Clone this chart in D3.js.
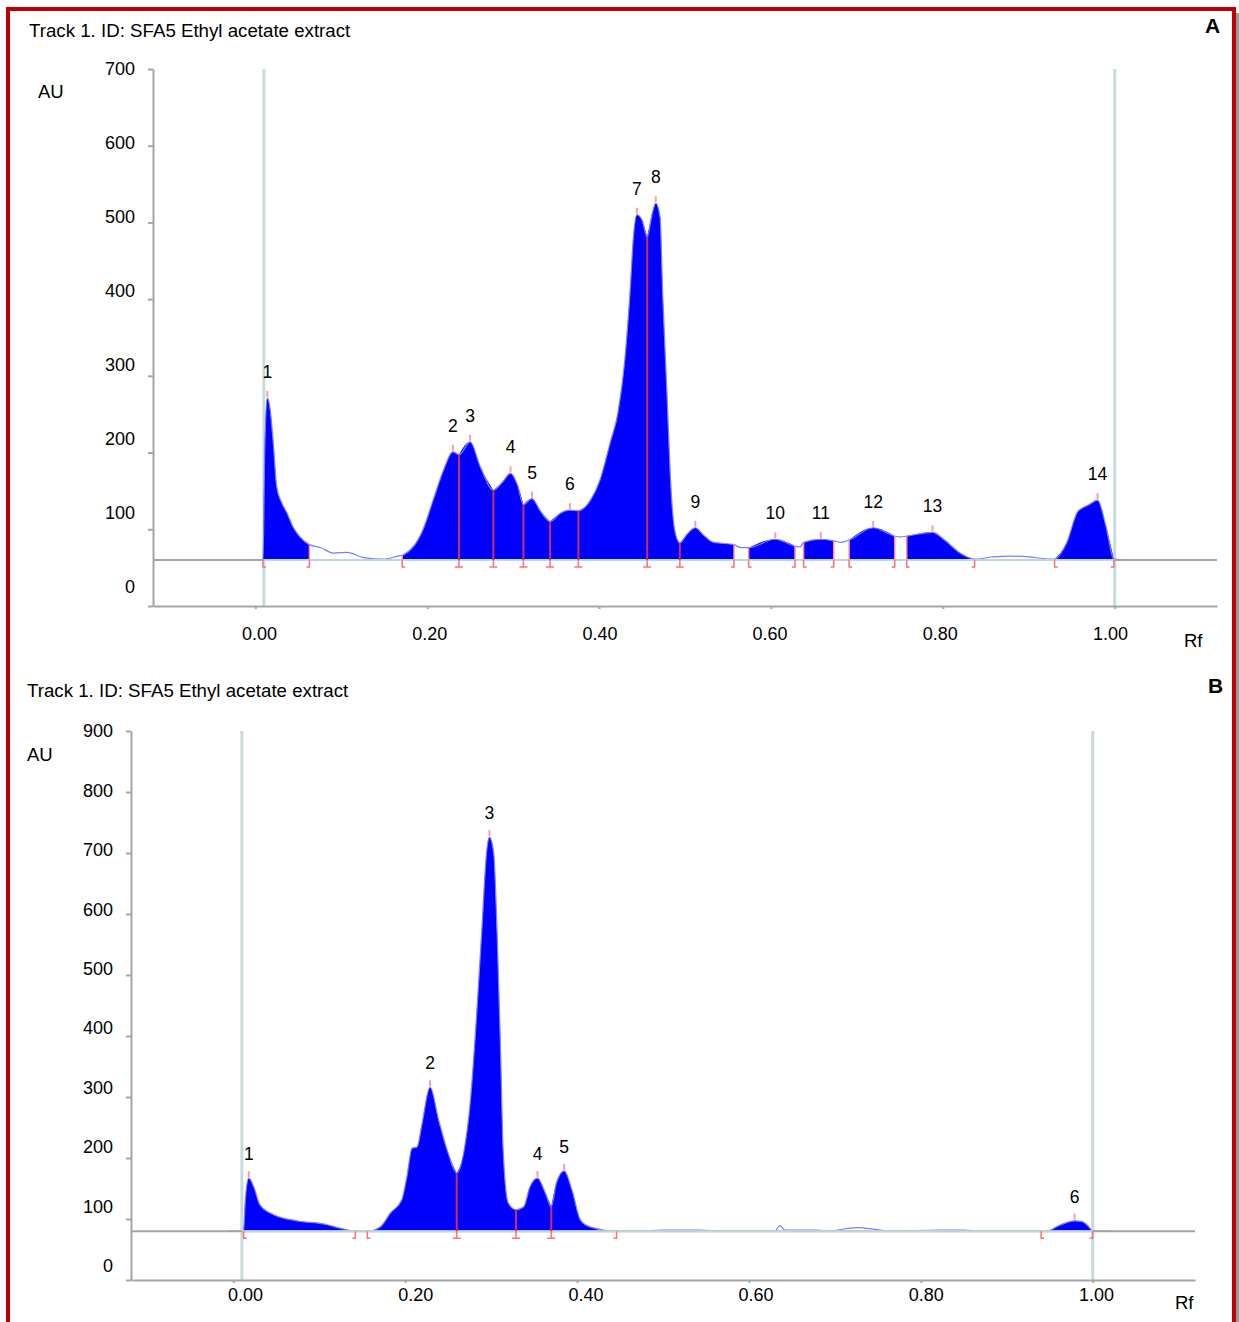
<!DOCTYPE html>
<html lang="en">
<head>
<meta charset="UTF-8" />
<title>Track 1. ID: SFA5 Ethyl acetate extract</title>
<script src="https://d3js.org/d3.v7.min.js"></script>
<style>
  body { margin: 0; background: #fff; }
  svg { display: block; font-family: "Liberation Sans", Arial, sans-serif; }
</style>
</head>
<body>
<svg id="chart" width="1239" height="1322"></svg>
<script>
// ---- shared ----
const rfTicks = [0, 0.2, 0.4, 0.6, 0.8, 1.0];
const rfExtent = [-0.119, 1.119];
const trackLimits = [0.01, 1.0];
const titleText = "Track 1. ID: SFA5 Ethyl acetate extract";

// ---- panel A ----
const auTicksA = [0, 100, 200, 300, 400, 500, 600, 700];
const baselineA = 60;
const rfA = [-0.008, 0.009, 0.011, 0.014, 0.017, 0.021, 0.025, 0.031, 0.037, 0.044, 0.052, 0.063,
  0.076, 0.091, 0.107, 0.126, 0.149, 0.166, 0.171, 0.195, 0.207, 0.219, 0.230, 0.237, 0.250, 0.262,
  0.277, 0.288, 0.297, 0.305, 0.312, 0.322, 0.331, 0.343, 0.355, 0.366, 0.376, 0.390, 0.401, 0.413,
  0.422, 0.430, 0.436, 0.440, 0.444, 0.450, 0.456, 0.462, 0.466, 0.471, 0.474, 0.479, 0.483, 0.488,
  0.494, 0.502, 0.512, 0.521, 0.533, 0.541, 0.557, 0.565, 0.574, 0.605, 0.628, 0.634, 0.638, 0.658,
  0.673, 0.682, 0.691, 0.719, 0.744, 0.751, 0.758, 0.788, 0.802, 0.820, 0.837, 0.858, 0.879, 0.901,
  0.927, 0.930, 0.944, 0.957, 0.970, 0.980, 0.990, 0.999, 1.021];
const auA = [60, 60, 203, 271, 259, 212, 155, 134, 121, 103, 90, 80,
  76, 69, 70, 63, 61, 65, 66, 99, 138, 177, 201, 197, 214, 181,
  151, 162, 173, 158, 132, 140, 125, 110, 121, 125, 124, 138, 164, 213,
  252, 321, 408, 481, 510, 503, 481, 512, 525, 507, 408, 278, 168, 99,
  82, 93, 102, 93, 83, 82, 80, 76, 76, 87, 78, 77, 83, 87,
  85, 83, 86, 102, 91, 90, 91, 96, 86, 69, 61, 64, 65, 64,
  61, 61, 82, 123, 132, 138, 103, 61, 60];
const peakStartA = [0.009, 0.171, 0.237, 0.277, 0.312, 0.343, 0.376, 0.456, 0.494, 0.574, 0.638, 0.691, 0.758, 0.930];
const peakTopA   = [0.014, 0.230, 0.250, 0.297, 0.322, 0.366, 0.444, 0.466, 0.512, 0.605, 0.658, 0.719, 0.788, 0.980];
const peakEndA   = [0.063, 0.237, 0.277, 0.312, 0.343, 0.376, 0.456, 0.494, 0.557, 0.628, 0.673, 0.744, 0.837, 0.999];

// ---- panel B ----
const auTicksB = [0, 100, 200, 300, 400, 500, 600, 700, 800, 900];
const baselineB = 80;
const rfB = [-0.006, 0.012, 0.014, 0.018, 0.024, 0.031, 0.047, 0.074, 0.105, 0.124, 0.142, 0.156,
  0.171, 0.183, 0.196, 0.202, 0.208, 0.214, 0.219, 0.229, 0.239, 0.250, 0.260, 0.268, 0.276, 0.283,
  0.289, 0.295, 0.298, 0.303, 0.307, 0.311, 0.314, 0.320, 0.329, 0.338, 0.345, 0.354, 0.363, 0.370,
  0.376, 0.385, 0.394, 0.404, 0.415, 0.446, 0.477, 0.497, 0.543, 0.574, 0.630, 0.636, 0.642, 0.679,
  0.694, 0.712, 0.727, 0.747, 0.764, 0.822, 0.851, 0.869, 0.940, 0.946, 0.962, 0.979, 0.987, 0.995,
  1.000, 1.022];
const auB = [80, 80, 131, 167, 152, 123, 107, 97, 92, 85, 80, 80,
  87, 110, 131, 169, 216, 218, 251, 316, 262, 208, 175, 208, 295, 431,
  569, 705, 726, 700, 569, 377, 213, 126, 115, 120, 152, 167, 143, 120,
  159, 179, 148, 98, 87, 80, 80, 82, 82, 80, 80, 89, 82, 82,
  80, 84, 86, 83, 80, 82, 82, 80, 80, 80, 90, 97, 96, 88,
  80, 80];
const peakStartB = [0.012, 0.156, 0.260, 0.329, 0.370, 0.940];
const peakTopB   = [0.018, 0.229, 0.298, 0.354, 0.385, 0.979];
const peakEndB   = [0.142, 0.260, 0.329, 0.370, 0.446, 1.000];

const svg = d3.select("#chart");

// frame
svg.append("rect").attr("x", 1236).attr("y", 13).attr("width", 3).attr("height", 1320).attr("fill", "#9a9a9a");
svg.append("rect").attr("x", 8).attr("y", 9).attr("width", 1226).attr("height", 1400)
  .attr("fill", "none").attr("stroke", "#c00000").attr("stroke-width", 4);

function drawPanel(p) {
  const g = svg.append("g");
  const x = d3.scaleLinear().domain(rfExtent).range([p.left, p.right]);
  const y = d3.scaleLinear().domain([0, d3.max(p.ticks)]).range([p.zeroY, p.topY]);
  const xLab = d3.scaleLinear().domain([0, 1]).range(p.xLabRange);
  const yLab = d3.scaleLinear().domain([0, d3.max(p.ticks)]).range(p.yLabRange);
  const trace = d3.scaleLinear().domain(p.rf).range(p.au).clamp(true);
  const yb = y(p.baseline);

  // start / front lines of the track
  g.selectAll(".track").data(trackLimits).join("line")
    .attr("x1", d => x(d)).attr("x2", d => x(d))
    .attr("y1", y(0)).attr("y2", p.topY)
    .attr("stroke", "#c6dcdc").attr("stroke-width", 3);

  // integrated peak areas
  const area = d3.area().x(d => x(d[0])).y0(yb).y1(d => y(d[1])).curve(d3.curveMonotoneX);
  p.start.forEach((s, i) => {
    const e = p.end[i];
    const pts = [[s, trace(s)]];
    p.rf.forEach((r, k) => { if (r > s && r < e) pts.push([r, p.au[k]]); });
    pts.push([e, trace(e)]);
    g.append("path").attr("d", area(pts)).attr("fill", "#0000ff");
  });

  // raw trace
  const line = d3.line().x((d, k) => x(p.rf[k])).y(d => y(d)).curve(d3.curveMonotoneX);
  g.append("path").attr("d", line(p.au)).attr("fill", "none")
    .attr("stroke", "#7c7cff").attr("stroke-width", 1.2);

  // baseline
  g.append("line").attr("x1", p.left).attr("x2", p.right).attr("y1", yb).attr("y2", yb)
    .attr("stroke", "#a4a4a4").attr("stroke-width", 2);
  g.append("line").attr("x1", x(trackLimits[0])).attr("x2", x(trackLimits[1]))
    .attr("y1", yb).attr("y2", yb).attr("stroke", "#bfd8d8").attr("stroke-width", 2);

  // peak boundaries
  const bounds = [];
  p.start.forEach((s, i) => {
    const adj = i > 0 && p.end[i - 1] === s;
    bounds.push({ rf: s, type: adj ? "valley" : "start" });
    const next = i < p.start.length - 1 && p.start[i + 1] === p.end[i];
    if (!next) bounds.push({ rf: p.end[i], type: "end" });
  });
  g.selectAll(".bound").data(bounds).join("line")
    .attr("x1", d => x(d.rf)).attr("x2", d => x(d.rf))
    .attr("y1", yb).attr("y2", d => y(trace(d.rf)))
    .attr("stroke", d => d.type === "valley" ? "#cc2e55" : "#ff8f8f")
    .attr("stroke-width", d => d.type === "valley" ? 2 : 1.5);
  g.selectAll(".mark").data(bounds).join("path")
    .attr("d", d => {
      const bx = x(d.rf), by = yb + 7;
      if (d.type === "valley") return `M${bx},${yb}V${by}M${bx - 4},${by}H${bx + 4}`;
      if (d.type === "start") return `M${bx},${yb}V${by}H${bx + 3}`;
      return `M${bx},${yb}V${by}H${bx - 3}`;
    })
    .attr("fill", "none").attr("stroke", "#ff7070").attr("stroke-width", 1.5);

  // peak apex marks and numbers
  g.selectAll(".apex").data(p.top).join("line")
    .attr("x1", d => x(d)).attr("x2", d => x(d))
    .attr("y1", d => y(trace(d)) - 1).attr("y2", d => y(trace(d)) - 7)
    .attr("stroke", "#ff9c9c").attr("stroke-width", 2);
  g.selectAll(".plab").data(p.top).join("text")
    .attr("x", d => x(d)).attr("y", d => y(trace(d)) - p.labelGap)
    .attr("text-anchor", "middle").attr("font-size", 17.5).attr("fill", "#000")
    .text((d, i) => i + 1);

  // axes
  const yAxis = g.append("g").attr("transform", `translate(${p.left},0)`)
    .call(d3.axisLeft(y).tickValues(p.ticks).tickSize(5).tickSizeOuter(0).tickFormat(""));
  const xAxis = g.append("g").attr("transform", `translate(0,${y(0)})`)
    .call(d3.axisBottom(x).tickValues(rfTicks).tickSize(3).tickSizeOuter(0).tickFormat(""));
  [yAxis, xAxis].forEach(a => {
    a.attr("color", "#a6a6a6");
    a.selectAll("path, line").attr("stroke-width", 2);
  });

  const yText = g.append("g").attr("transform", `translate(${p.left},0)`)
    .call(d3.axisLeft(yLab).tickValues(p.ticks).tickSize(0).tickPadding(p.yPad));
  const xText = g.append("g").attr("transform", `translate(0,${y(0)})`)
    .call(d3.axisBottom(xLab).tickValues(rfTicks).tickFormat(d3.format(".2f")).tickSize(0).tickPadding(p.xPad));
  [yText, xText].forEach(a => {
    a.select(".domain").remove();
    a.selectAll("text").attr("font-size", 18).attr("fill", "#000")
      .attr("font-family", "Liberation Sans, Arial, sans-serif");
  });

  // titles
  g.append("text").attr("x", p.title[0]).attr("y", p.title[1]).attr("font-size", 18.7).text(titleText);
  g.append("text").attr("x", p.auPos[0]).attr("y", p.auPos[1]).attr("font-size", 18.5).text("AU");
  g.append("text").attr("x", p.rfPos[0]).attr("y", p.rfPos[1]).attr("font-size", 18.5).text("Rf");
  g.append("text").attr("x", p.letterPos[0]).attr("y", p.letterPos[1])
    .attr("font-size", 21).attr("font-weight", "bold").text(p.letter);
}

drawPanel({
  rf: rfA, au: auA, baseline: baselineA, ticks: auTicksA,
  start: peakStartA, top: peakTopA, end: peakEndA,
  left: 153, right: 1217, topY: 69, zeroY: 606,
  xLabRange: [259, 1110], yLabRange: [587, 69], yPad: 18, xPad: 21,
  labelGap: 20, title: [29, 37], auPos: [38, 98], rfPos: [1184, 647],
  letterPos: [1205, 33], letter: "A"
});

drawPanel({
  rf: rfB, au: auB, baseline: baselineB, ticks: auTicksB,
  start: peakStartB, top: peakTopB, end: peakEndB,
  left: 131, right: 1195, topY: 731, zeroY: 1280,
  xLabRange: [245, 1096], yLabRange: [1266, 731], yPad: 18, xPad: 8,
  labelGap: 18, title: [27, 697], auPos: [27, 761], rfPos: [1175, 1309],
  letterPos: [1208, 693], letter: "B"
});
</script>
</body>
</html>
